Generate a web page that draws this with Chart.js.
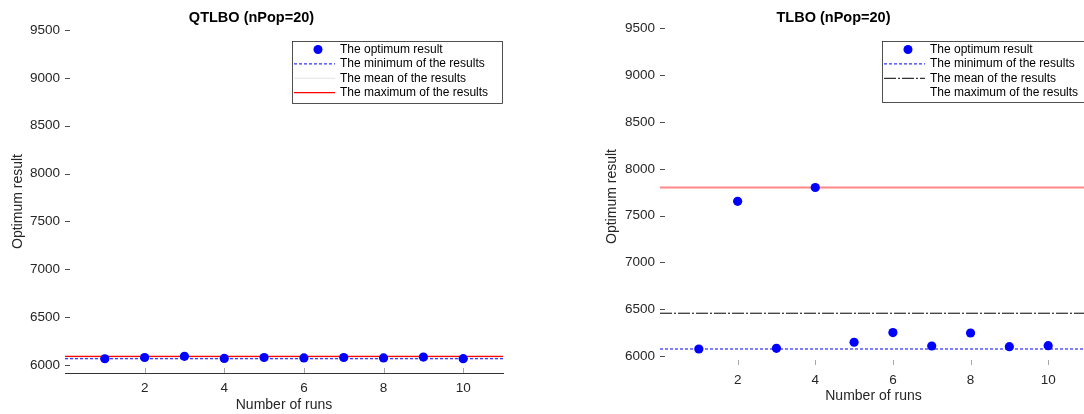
<!DOCTYPE html>
<html>
<head>
<meta charset="utf-8">
<script src="https://cdn.jsdelivr.net/npm/chart.js@4.4.1/dist/chart.umd.min.js"></script>
<style>
  html, body { margin: 0; padding: 0; background: #fff; overflow: hidden; width: 1084px; height: 414px; }
  .panel { position: absolute; top: 0; height: 414px; }
  #left { left: 0; width: 540px; }
  #right { left: 580px; width: 520px; }
</style>
</head>
<body>
<div class="panel" id="left"><canvas id="chart-left"></canvas></div>
<div class="panel" id="right"><canvas id="chart-right"></canvas></div>
<script>
const RUNS = [1, 2, 3, 4, 5, 6, 7, 8, 9, 10];
const X_RANGE = [0, 11];
const X_TICKS = [2, 4, 6, 8, 10];
const Y_TICKS = [6000, 6500, 7000, 7500, 8000, 8500, 9000, 9500];

const LEGEND_LABELS = [
  "The optimum result",
  "The minimum of the results",
  "The mean of the results",
  "The maximum of the results",
];

// QTLBO (nPop=20)
const QTLBO_RESULTS = [6065, 6078, 6090, 6068, 6078, 6074, 6078, 6074, 6082, 6066];
const QTLBO_MIN = 6065;
const QTLBO_MEAN = 6075;
const QTLBO_MAX = 6090;

// TLBO (nPop=20)
const TLBO_RESULTS = [6075, 7652, 6082, 7800, 6147, 6250, 6107, 6246, 6100, 6110];
const TLBO_MIN = 6075;
const TLBO_MEAN = 6457;
const TLBO_MAX = 7800;

const FONT = "'Liberation Sans', Arial, Helvetica, sans-serif";
const TEXT = "#262626";

function el(id) {
  return document.getElementById(id);
}

function hline(y) {
  return [{ x: X_RANGE[0], y }, { x: X_RANGE[1], y }];
}

// MATLAB style tick marks pointing into the plot
const innerTicks = {
  id: "innerTicks",
  afterDatasetsDraw(chart) {
    const { ctx, chartArea: a, scales } = chart;
    ctx.save();
    ctx.lineWidth = 1;
    ctx.strokeStyle = "#4d4d4d";
    ctx.beginPath();
    for (const t of scales.y.ticks) {
      const py = Math.round(scales.y.getPixelForValue(t.value)) + 0.5;
      ctx.moveTo(a.left, py);
      ctx.lineTo(a.left + 5, py);
    }
    ctx.stroke();
    ctx.strokeStyle = "#a8a8a8";
    ctx.beginPath();
    for (const t of scales.x.ticks) {
      const px = Math.round(scales.x.getPixelForValue(t.value)) + 0.5;
      ctx.moveTo(px, a.bottom);
      ctx.lineTo(px, a.bottom - 5);
    }
    ctx.stroke();
    ctx.restore();
  },
};

// boxed legend in the upper right of the plot
const boxLegend = {
  id: "boxLegend",
  afterDraw(chart, args, opts) {
    const { ctx, chartArea: a } = chart;
    const x0 = opts.left;
    const y0 = opts.top;
    const w = a.right - x0;
    const h = opts.bottom - y0;
    ctx.save();
    ctx.fillStyle = "#fff";
    ctx.fillRect(x0, y0, w, h);
    ctx.strokeStyle = "#262626";
    ctx.lineWidth = 0.8;
    ctx.strokeRect(x0 + 0.5, y0 + 0.5, w - 1, h);
    ctx.font = `12px ${FONT}`;
    ctx.textBaseline = "middle";
    chart.data.datasets.forEach((ds, i) => {
      const cy = y0 + 8.5 + i * 14.4;
      if (ds.showLine) {
        if (ds.legendLine !== false) {
          ctx.save();
          ctx.strokeStyle = ds.legendColor || ds.borderColor;
          ctx.lineWidth = ds.borderWidth;
          ctx.setLineDash(ds.borderDash || []);
          ctx.beginPath();
          ctx.moveTo(x0 + 2, cy);
          ctx.lineTo(x0 + 43, cy);
          ctx.stroke();
          ctx.restore();
        }
      } else {
        ctx.fillStyle = ds.backgroundColor;
        ctx.beginPath();
        ctx.arc(x0 + 26, cy, 4.5, 0, Math.PI * 2);
        ctx.fill();
      }
      ctx.fillStyle = "#000";
      ctx.fillText(ds.label, x0 + 48, cy);
    });
    ctx.restore();
  },
};

function makeChart(id, cfg) {
  return new Chart(el(id), {
    type: "scatter",
    data: {
      datasets: [
        {
          label: LEGEND_LABELS[0],
          data: RUNS.map((r, i) => ({ x: r, y: cfg.results[i] })),
          backgroundColor: "#0000ff",
          borderColor: "#0000ff",
          borderWidth: 0,
          pointRadius: 4.6,
          pointHoverRadius: 4.6,
        },
        {
          label: LEGEND_LABELS[1],
          data: hline(cfg.min),
          showLine: true,
          pointRadius: 0,
          borderColor: "#0000ff",
          borderWidth: 1,
          borderDash: [3, 2],
        },
        {
          label: LEGEND_LABELS[2],
          data: hline(cfg.mean),
          showLine: true,
          pointRadius: 0,
          borderColor: cfg.meanColor,
          borderWidth: 1,
          borderDash: cfg.meanDash,
        },
        {
          label: LEGEND_LABELS[3],
          data: hline(cfg.max),
          showLine: true,
          pointRadius: 0,
          borderColor: cfg.maxColor,
          borderWidth: cfg.maxWidth,
          legendLine: cfg.maxInLegend,
        },
      ],
    },
    options: {
      responsive: true,
      maintainAspectRatio: false,
      animation: false,
      events: [],
      layout: { padding: { left: 0, right: cfg.padRight, top: 0, bottom: 0 } },
      scales: {
        x: {
          type: "linear",
          min: X_RANGE[0],
          max: X_RANGE[1],
          afterBuildTicks: (s) => { s.ticks = X_TICKS.map((v) => ({ value: v })); },
          afterFit: (s) => { s.height = cfg.xHeight; },
          grid: { display: false, drawTicks: false },
          border: { display: cfg.xBorder, color: "#333", width: 1 },
          ticks: {
            font: { family: FONT, size: 13.5 },
            color: TEXT,
            padding: 7.5,
            maxRotation: 0,
            callback: (v) => String(v),
          },
          title: {
            display: true,
            text: "Number of runs",
            color: TEXT,
            font: { family: FONT, size: 14 },
            padding: { top: 0, bottom: cfg.xTitlePad },
          },
        },
        y: {
          type: "linear",
          min: cfg.yMin,
          max: cfg.yMax,
          afterBuildTicks: (s) => { s.ticks = Y_TICKS.map((v) => ({ value: v })); },
          afterFit: (s) => { s.width = cfg.yWidth; },
          grid: { display: false, drawTicks: false },
          border: { display: false },
          ticks: {
            font: { family: FONT, size: 13.5 },
            color: TEXT,
            padding: 5,
            callback: (v) => String(v),
          },
          title: {
            display: true,
            text: "Optimum result",
            color: TEXT,
            font: { family: FONT, size: 14 },
            padding: { top: cfg.yTitlePad, bottom: 0 },
          },
        },
      },
      plugins: {
        legend: { display: false },
        tooltip: { enabled: false },
        title: {
          display: true,
          text: cfg.title,
          color: "#000",
          font: { family: FONT, size: 14.5, weight: "bold" },
          padding: { top: 8.8, bottom: cfg.titlePadBottom },
        },
        boxLegend: cfg.legend,
      },
    },
    plugins: [innerTicks, boxLegend],
  });
}

makeChart("chart-left", {
  title: "QTLBO (nPop=20)",
  results: QTLBO_RESULTS,
  min: QTLBO_MIN,
  mean: QTLBO_MEAN,
  max: QTLBO_MAX,
  meanColor: "#e4e4e4",
  meanDash: [],
  maxColor: "#ff0000",
  maxWidth: 1.3,
  maxInLegend: true,
  yMin: 5916,
  yMax: 9500,
  yWidth: 65,
  xHeight: 41,
  padRight: 37,
  titlePadBottom: 3.8,
  xTitlePad: 0.6,
  yTitlePad: 9.6,
  xBorder: true,
  legend: { left: 292, top: 41, bottom: 103 },
});

makeChart("chart-right", {
  title: "TLBO (nPop=20)",
  results: TLBO_RESULTS,
  min: TLBO_MIN,
  mean: TLBO_MEAN,
  max: TLBO_MAX,
  meanColor: "#000000",
  meanDash: [12, 2, 2, 2],
  maxColor: "rgba(255, 70, 70, 0.65)",
  maxWidth: 2,
  maxInLegend: false,
  yMin: 5904,
  yMax: 9504,
  yWidth: 80,
  xHeight: 49,
  padRight: 13,
  titlePadBottom: 1.8,
  xTitlePad: 9.6,
  yTitlePad: 23.6,
  xBorder: false,
  legend: { left: 302, top: 41, bottom: 102 },
});
</script>
</body>
</html>
